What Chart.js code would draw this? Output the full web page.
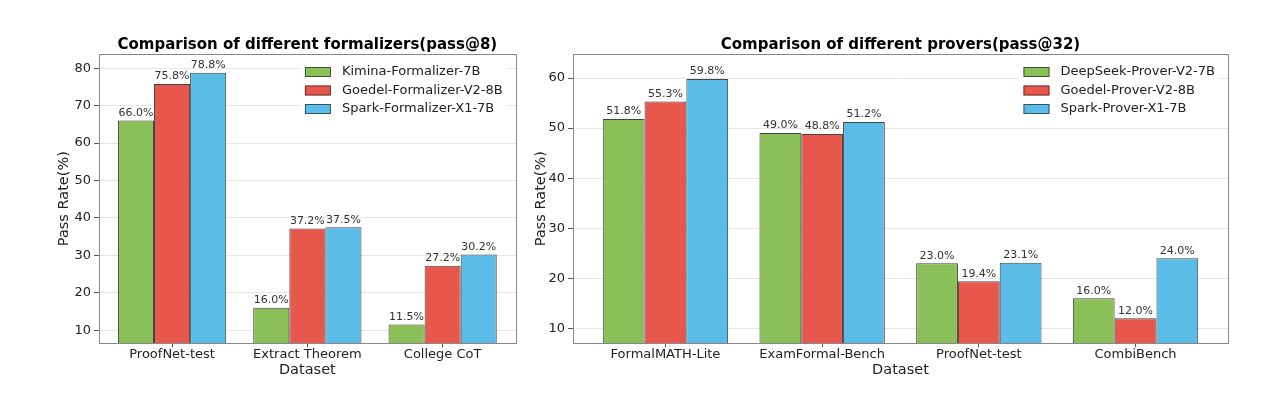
<!DOCTYPE html>
<html>
<head>
<meta charset="utf-8">
<script src="https://cdn.jsdelivr.net/npm/chart.js@4.4.1/dist/chart.umd.min.js"></script>
<style>
  html, body { margin: 0; padding: 0; background: #fff; }
  #wrap { position: relative; width: 1288px; height: 414px; }
  #graphic1 { position: absolute; left: 0; top: 0; }
  #graphic2 { position: absolute; left: 520px; top: 0; }
</style>
</head>
<body>
<div id="wrap">
  <canvas id="graphic1" width="520" height="414"></canvas>
  <canvas id="graphic2" width="768" height="414"></canvas>
</div>
<script>
// dados do gráfico da esquerda (formalizers, pass@8)
const formCats = ['ProofNet-test', 'Extract Theorem', 'College CoT'];
const kimina = [66.0, 16.0, 11.5];
const goedelForm = [75.8, 37.2, 27.2];
const sparkForm = [78.8, 37.5, 30.2];
const formTicks = [10, 20, 30, 40, 50, 60, 70, 80];

// dados do gráfico da direita (provers, pass@32)
const proverCats = ['FormalMATH-Lite', 'ExamFormal-Bench', 'ProofNet-test', 'CombiBench'];
const deepseek = [51.8, 49.0, 23.0, 16.0];
const goedelProver = [55.3, 48.8, 19.4, 12.0];
const sparkProver = [59.8, 51.2, 23.1, 24.0];
const proverTicks = [10, 20, 30, 40, 50, 60];

const green = '#8bc058';
const red = '#e8574b';
const blue = '#5bbce8';
const edge = 'rgba(35,35,35,0.85)';
const font = '"DejaVu Sans", sans-serif';

// rótulos de valor, legenda e moldura
const decor = {
  id: 'decor',
  afterDatasetsDraw(chart) {
    const ctx = chart.ctx;
    const a = chart.chartArea;
    ctx.save();
    ctx.font = '11px ' + font;
    ctx.fillStyle = '#333';
    ctx.textAlign = 'center';
    ctx.textBaseline = 'bottom';
    chart.data.datasets.forEach((ds, i) => {
      chart.getDatasetMeta(i).data.forEach((bar, j) => {
        ctx.fillText(ds.data[j].y.toFixed(1) + '%', bar.x, bar.y - 2);
      });
    });

    ctx.font = '13px ' + font;
    const names = chart.data.datasets.map(d => d.label);
    const tw = Math.max(...names.map(n => ctx.measureText(n).width));
    const right = a.right - 13;
    const textX = right - tw;
    const patchX = textX - 37;
    ctx.fillStyle = '#fff';
    ctx.fillRect(patchX - 5, a.top + 7, right - patchX + 9, 60);
    names.forEach((n, i) => {
      const y = a.top + 18 + i * 18.5;
      ctx.fillStyle = chart.data.datasets[i].backgroundColor;
      ctx.fillRect(patchX, y - 5, 26, 10);
      ctx.strokeStyle = edge;
      ctx.lineWidth = 0.8;
      ctx.strokeRect(patchX + 0.5, y - 4.5, 25, 9);
      ctx.fillStyle = '#222';
      ctx.textAlign = 'left';
      ctx.textBaseline = 'middle';
      ctx.fillText(n, textX, y);
    });

    ctx.strokeStyle = '#888';
    ctx.lineWidth = 1;
    ctx.strokeRect(Math.round(a.left) + 0.5, Math.round(a.top) + 0.5,
      Math.round(a.right - a.left), Math.round(a.bottom - a.top));
    ctx.restore();
  }
};

function makeChart(id, title, cats, series, names, yTicks, yMin, yMax, xMin, xMax, pad, yW) {
  const ctx = document.querySelector(id).getContext('2d');
  const colors = [green, red, blue];
  return new Chart(ctx, {
    type: 'bar',
    data: {
      datasets: series.map((s, i) => ({
        label: names[i],
        data: s.map((v, j) => ({ x: j, y: v })),
        backgroundColor: colors[i],
        borderColor: edge,
        borderWidth: 1,
        borderSkipped: false,
        categoryPercentage: 0.8,
        barPercentage: 1.0
      }))
    },
    plugins: [decor],
    options: {
      responsive: false,
      animation: false,
      layout: { padding: pad },
      plugins: {
        legend: { display: false },
        tooltip: { enabled: false },
        title: {
          display: true,
          text: title,
          fullSize: false,
          color: '#000',
          font: { family: font, size: 15, weight: 'bold' },
          padding: { top: 0, bottom: 0 }
        }
      },
      scales: {
        x: {
          type: 'linear',
          min: xMin,
          max: xMax,
          offset: false,
          border: { display: false },
          grid: { display: true, offset: false, drawOnChartArea: false, drawTicks: true, tickLength: 4, tickColor: '#555' },
          afterBuildTicks: axis => { axis.ticks = cats.map((c, i) => ({ value: i })); },
          afterFit: axis => { axis.height = 35.9; },
          ticks: {
            autoSkip: false,
            maxRotation: 0,
            padding: 0,
            color: '#222',
            font: { family: font, size: 13 },
            callback: v => cats[v]
          },
          title: {
            display: true,
            text: 'Dataset',
            color: '#222',
            font: { family: font, size: 14.5 },
            padding: 0
          }
        },
        y: {
          min: yMin,
          max: yMax,
          border: { display: false },
          grid: { color: '#e6e6e6', lineWidth: 1, tickLength: 5, tickColor: '#555' },
          afterBuildTicks: axis => { axis.ticks = yTicks.map(v => ({ value: v })); },
          afterFit: axis => { axis.width = yW; },
          ticks: {
            padding: 3,
            color: '#222',
            font: { family: font, size: 13 }
          },
          title: {
            display: true,
            text: 'Pass Rate(%)',
            color: '#222',
            font: { family: font, size: 14.5 },
            padding: 0
          }
        }
      }
    }
  });
}

const myChart = makeChart('#graphic1', 'Comparison of different formalizers(pass@8)',
  formCats, [kimina, goedelForm, sparkForm],
  ['Kimina-Formalizer-7B', 'Goedel-Formalizer-V2-8B', 'Spark-Formalizer-X1-7B'],
  formTicks, 6.5, 83.8, -0.54, 2.54,
  { left: 56, right: 4.3, top: 36, bottom: 34.8 }, 43);

const myChart2 = makeChart('#graphic2', 'Comparison of different provers(pass@32)',
  proverCats, [deepseek, goedelProver, sparkProver],
  ['DeepSeek-Prover-V2-7B', 'Goedel-Prover-V2-8B', 'Spark-Prover-X1-7B'],
  proverTicks, 7, 64.8, -0.59, 3.59,
  { left: 13, right: 60, top: 36, bottom: 34.8 }, 40);
</script>
</body>
</html>
